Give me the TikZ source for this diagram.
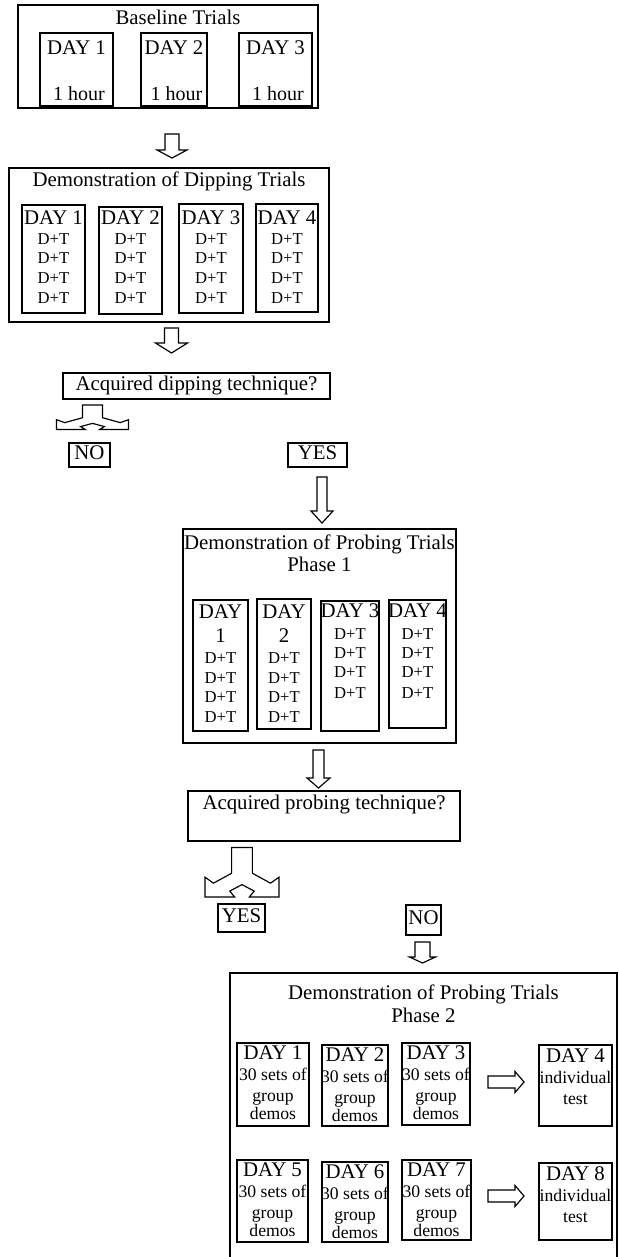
\documentclass[tikz,border=0pt]{standalone}
\usepackage{fontspec}
\setmainfont{Liberation Serif}
\usetikzlibrary{fit}
\newcommand{\bfs}{\fontsize{12.5}{14}\selectfont}
\newcommand{\mfs}{\fontsize{10.6}{13}\selectfont}
\newcommand{\sfs}{\fontsize{10}{12}\selectfont}
% hollow arrow down: x, top, head, tip, shaft half width, head half width
\newcommand{\dnblock}[6]{%
  \draw[blk] (#1-#5,#2) -- (#1+#5,#2) -- (#1+#5,#3) -- (#1+#6,#3) -- (#1,#4)
    -- (#1-#6,#3) -- (#1-#5,#3) -- cycle;}
% hollow arrow right: y, left, head, tip, shaft half width, head half width
\newcommand{\rtblock}[6]{%
  \draw[blk] (#2,#1-#5) -- (#3,#1-#5) -- (#3,#1-#6) -- (#4,#1) -- (#3,#1+#6)
    -- (#3,#1+#5) -- (#2,#1+#5) -- cycle;}
% split arrow: x, top, half width, height
\newcommand{\forkarrow}[4]{%
  \draw[blk, shift={(#1,#2)}, xscale=#3, yscale=#4] (-0.28,0) -- (-0.28,0.52)
    -- (-0.77,0.72) -- (-1,0.6) -- (-1,1) -- (-0.2,1) -- (-0.33,0.88) -- (0,0.75)
    -- (0.33,0.88) -- (0.2,1) -- (1,1) -- (1,0.6) -- (0.77,0.72) -- (0.28,0.52)
    -- (0.28,0) -- cycle;}

\begin{document}
\begin{tikzpicture}[x=0.6pt, y=-0.6pt, font=\bfs,
    box/.style={draw, line width=0.7pt, inner sep=0pt},
    blk/.style={draw, line width=0.7pt, fill=white},
    txt/.style={inner sep=0pt, text height=0.68em, text depth=0.2em}]
  \useasboundingbox (0,0) rectangle (618,1257);

  % baseline
  \node[box, fit={(18,5) (318,108)}] (base) {};
  \node[txt] (baset) at (178,21) {Baseline Trials};
  \foreach \i\a\b in {1/40/113, 2/141/207, 3/239/312} {
    \node[box, fit={(\a,33) (\b,106)}] (b\i) {};
    \node[txt] (b\i d) at (b\i.center |- 0,50) {DAY \i};
    \node[txt, font=\fontsize{12}{14}\selectfont, xshift=1.5pt] (b\i h) at (b\i.center |- 0,96) {1 hour};
  }
  \dnblock{172}{134}{150}{158}{7}{15}

  % dipping
  \node[box, fit={(9,168) (329,322)}] (dip) {};
  \node[txt] (dipt) at (169,182) {Demonstration of Dipping Trials};
  \foreach \i\a\b\c\d in {1/22/85/205/313, 2/99/162/207/314, 3/179/243/204/313, 4/256/318/204/312} {
    \node[box, fit={(\a,\c) (\b,\d)}] (d\i) {};
    \node[txt] (d\i d) at (d\i.center |- 0,220) {DAY \i};
    \foreach \j\y in {1/240, 2/259.5, 3/279, 4/299.5}
      \node[txt, font=\sfs] (d\i t\j) at (d\i.center |- 0,\y) {D+T};
  }
  \dnblock{171.5}{328}{343}{353}{7}{16}

  \node[box, fit={(63,373) (330,399)}] (q1) {};
  \node[txt] (q1t) at (q1.center) {Acquired dipping technique?};
  \forkarrow{92.5}{405}{36}{24.5}
  \node[box, fit={(69,443) (110,467)}] (no1) {};
  \node[txt] (no1t) at (no1.center) {NO};
  \node[box, fit={(288,443) (347,467)}] (yes1) {};
  \node[txt] (yes1t) at (yes1.center) {YES};
  \dnblock{322}{477}{511}{523}{5}{11}

  % probing phase 1
  \node[box, fit={(183,529) (456,743)}] (ph1) {};
  \node[txt] (ph1t) at (319.5,545) {Demonstration of Probing Trials};
  \node[txt] (ph1n) at (319.5,567) {Phase 1};
  \foreach \i\a\b\c\d in {1/193/248/600/731, 2/257/311/599/729} {
    \node[box, fit={(\a,\c) (\b,\d)}] (p\i) {};
    \node[txt] (p\i d) at (p\i.center |- 0,614) {DAY};
    \node[txt] (p\i n) at (p\i.center |- 0,638) {\i};
    \foreach \j\y in {1/659, 2/679, 3/698, 4/718}
      \node[txt, font=\sfs] (p\i t\j) at (p\i.center |- 0,\y) {D+T};
  }
  \foreach \i\a\b\c\d in {3/321/379/601/731, 4/389/446/600/728} {
    \node[box, fit={(\a,\c) (\b,\d)}] (p\i) {};
    \node[txt] (p\i d) at (p\i.center |- 0,613) {DAY \i};
    \foreach \j\y in {1/635, 2/654, 3/673, 4/694}
      \node[txt, font=\sfs] (p\i t\j) at (p\i.center |- 0,\y) {D+T};
  }
  \dnblock{318.5}{750}{778}{788}{5.5}{11.5}

  \node[box, fit={(188,791) (460,841)}] (q2) {};
  \node[txt] (q2t) at (324,805) {Acquired probing technique?};
  \forkarrow{242}{847.5}{37}{49.5}
  \node[box, fit={(218,904) (265,932)}] (yes2) {};
  \node[txt] (yes2t) at (yes2.center) {YES};
  \node[box, fit={(406,905) (441,935)}] (no2) {};
  \node[txt] (no2t) at (no2.center) {NO};
  \dnblock{422.5}{942}{957}{963}{7.5}{13}

  % probing phase 2
  \node[box, fit={(230,973) (617,1265)}] (ph2) {};
  \node[txt] (ph2t) at (423.5,995) {Demonstration of Probing Trials};
  \node[txt] (ph2n) at (423.5,1018) {Phase 2};
  \foreach \i\a\b\c\d in {1/237/309/1043/1126, 2/322/388/1045/1126, 3/402/470/1043/1125,
      5/237/308/1160/1242, 6/322/388/1162/1242, 7/402/471/1160/1240} {
    \node[box, fit={(\a,\c) (\b,\d)}] (g\i) {};
    \node[txt] (g\i d) at ([yshift=-7.8pt]g\i.north) {DAY \i};
    \node[txt, font=\mfs] (g\i s) at ([yshift=-20.6pt]g\i.north) {30 sets of};
    \node[txt, font=\mfs] (g\i g) at ([yshift=-33pt]g\i.north) {group};
    \node[txt, font=\mfs] (g\i e) at ([yshift=-44pt]g\i.north) {demos};
  }
  \foreach \i\c\d in {4/1045/1126, 8/1163/1240} {
    \node[box, fit={(539,\c) (612,\d)}] (g\i) {};
    \node[txt] (g\i d) at ([yshift=-8.4pt]g\i.north) {DAY \i};
    \node[txt, font=\mfs] (g\i s) at ([yshift=-21pt]g\i.north) {individual};
    \node[txt, font=\mfs] (g\i e) at ([yshift=-33.6pt]g\i.north) {test};
  }
  \rtblock{1082}{488}{515}{524}{6}{10.5}
  \rtblock{1196}{488}{515}{524}{6}{10.5}
\end{tikzpicture}
\end{document}
